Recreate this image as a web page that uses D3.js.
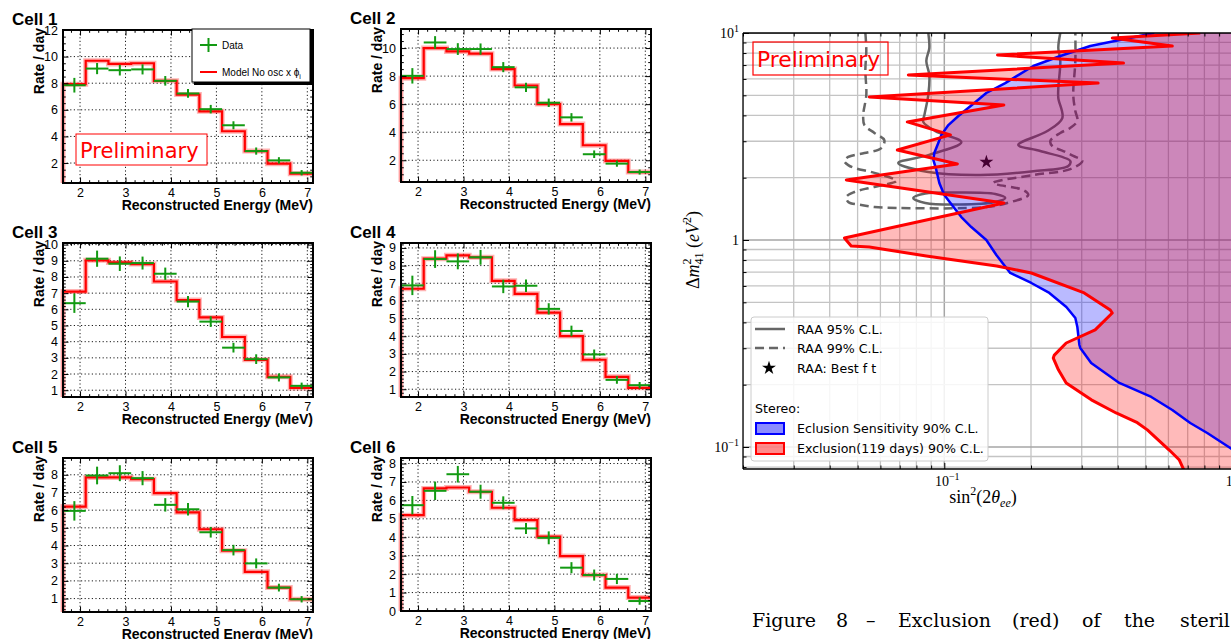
<!DOCTYPE html>
<html><head><meta charset="utf-8">
<script src="https://cdn.jsdelivr.net/npm/d3@7"></script>
<style>body{margin:0;background:#fff}svg{display:block}</style>
</head><body>
<svg id="c" width="1231" height="639"></svg>
<script>
// ---------------- DATA: left panels ----------------
const energyEdges = [1.625,2.125,2.625,3.125,3.625,4.125,4.625,5.125,5.625,6.125,6.625,7.125];
const energyTicks = [2,3,4,5,6,7];
const cellNames = ["Cell 1","Cell 2","Cell 3","Cell 4","Cell 5","Cell 6"];
const model1 = [7.93,9.69,9.45,9.5,8.18,7.15,5.89,4.39,2.9,1.95,1.2];
const data1  = [7.85,9.1,8.98,9.04,8.18,7.23,6.05,4.84,2.9,2.2,1.27];
const err1   = [0.55,0.42,0.4,0.38,0.36,0.33,0.32,0.3,0.27,0.24,0.2];
const model2 = [7.85,10.0,9.76,9.6,8.5,7.33,6.01,4.58,3.07,1.95,1.16];
const data2  = [8.02,10.4,9.93,9.93,8.64,7.2,6.1,5.06,2.43,1.76,1.16];
const err2   = [0.55,0.45,0.42,0.4,0.36,0.33,0.3,0.3,0.27,0.22,0.18];
const model3 = [7.1,9.03,8.9,8.8,7.72,6.57,5.5,4.29,2.88,1.83,1.14];
const data3  = [6.38,9.13,8.82,8.86,8.2,6.48,5.24,3.63,2.92,1.79,1.27];
const err3   = [0.6,0.5,0.45,0.4,0.38,0.35,0.33,0.3,0.3,0.25,0.2];
const model4 = [6.69,8.39,8.58,8.47,7.14,6.4,5.34,4.01,2.67,1.7,1.08];
const data4  = [6.88,8.37,8.24,8.47,6.82,6.86,5.55,4.3,2.97,1.53,1.23];
const err4   = [0.55,0.5,0.45,0.42,0.38,0.35,0.32,0.3,0.28,0.22,0.18];
const model5 = [6.2,7.85,7.85,7.75,6.96,5.88,4.92,3.71,2.51,1.62,0.96];
const data5  = [5.96,7.96,8.09,7.81,6.3,6.05,4.75,3.74,2.99,1.62,0.96];
const err5   = [0.55,0.5,0.45,0.4,0.38,0.35,0.3,0.3,0.28,0.22,0.18];
const model6 = [5.2,6.65,6.7,6.47,5.6,4.93,4.03,2.98,1.95,1.27,0.73];
const data6  = [5.74,6.52,7.42,6.47,5.87,4.48,3.97,2.35,1.95,1.74,0.54];
const err6   = [0.5,0.5,0.45,0.38,0.35,0.3,0.35,0.3,0.3,0.28,0.2];
const yTicks1 = [2,4,6,8,10,12];
const yTicks2 = [2,4,6,8,10];
const yTicks3 = [1,2,3,4,5,6,7,8,9,10];
const yTicks4 = [1,2,3,4,5,6,7,8,9];
const yTicks5 = [1,2,3,4,5,6,7,8];
const yTicks6 = [0,1,2,3,4,5,6,7,8];
const yLim1 = [0.5,12], yLim2 = [0.45,11.36], yLim3 = [0.58,10.1];
const yLim4 = [0.56,9.28], yLim5 = [0.24,8.95], yLim6 = [0,8.3];
const legendLabels = ["Data","Model No osc x \u03d5"];

// ---------------- DATA: exclusion plot ----------------
const redSin2 = [0.774,0.383,0.619,0.153,0.419,0.075,0.342,0.0549,0.161,0.0744,0.105,0.0687,0.111,0.0457,0.161,0.045,0.0475,0.0549,0.0866,0.152,0.2005,0.306,0.377,0.383,0.334,0.265,0.241,0.239,0.249,0.265,0.324,0.395,0.468,0.507,0.554,0.604,0.655,0.68];
const redDm2  = [10.0,9.46,8.65,7.83,7.16,6.27,5.73,4.91,4.49,3.72,3.22,2.72,2.33,1.95,1.51,1.022,0.935,0.925,0.837,0.749,0.693,0.555,0.459,0.444,0.368,0.318,0.278,0.269,0.236,0.204,0.169,0.146,0.131,0.121,0.108,0.0967,0.0865,0.077];
const blueSin2 = [0.536,0.321,0.2528,0.2037,0.1628,0.1399,0.1271,0.1119,0.1033,0.0977,0.0953,0.0923,0.0916,0.0938,0.0961,0.1,0.1083,0.1146,0.1241,0.1399,0.1516,0.1694,0.2005,0.2316,0.2653,0.2851,0.2897,0.2945,0.2966,0.3236,0.4052,0.5233,0.619,0.7145,0.8185,0.984,1.155];
const blueDm2  = [10.0,8.65,7.74,6.93,5.73,5.13,4.59,3.97,3.59,3.22,2.94,2.63,2.44,2.18,1.885,1.65,1.427,1.291,1.155,1.0,0.846,0.693,0.62,0.555,0.475,0.42,0.38,0.311,0.301,0.2545,0.204,0.1745,0.151,0.1306,0.1169,0.0989,0.0847];
const raa95Sin2 = [0.088,0.0887,0.0866,0.0887,0.088,0.0853,0.0845,0.0931,0.1146,0.088,0.0692,0.088,0.1333,0.2037,0.2696,0.2738,0.2154,0.1807,0.2279,0.2569,0.2488,0.2488,0.2528,0.2488,0.2528];
const raa95Dm2  = [10.0,8.46,7.32,6.27,5.02,4.02,3.72,3.36,2.97,2.57,2.355,2.13,2.06,2.15,2.28,2.41,2.69,2.88,3.36,3.88,4.85,5.42,7.32,8.46,10.0];
const raa95IslandSin2 = [0.078,0.0859,0.1127,0.1503,0.1628,0.1503,0.1127,0.0859];
const raa95IslandDm2  = [1.596,1.677,1.696,1.668,1.596,1.526,1.484,1.51];
const raa99Sin2 = [0.0532,0.0536,0.0532,0.0536,0.0523,0.0528,0.0572,0.0619,0.0604,0.0528,0.0464,0.045,0.0464,0.0487,0.0572,0.0681,0.0619,0.0545,0.0487,0.0457,0.0464,0.0515,0.0572,0.0692,0.1399,0.1655,0.1957,0.188,0.148,0.2037,0.2738,0.3014,0.2804,0.2588,0.2372,0.2335,0.2528,0.2738,0.2897,0.2851,0.2804,0.2851,0.2851];
const raa99Dm2  = [10.0,8.28,6.63,5.02,4.02,3.59,3.29,3.04,2.78,2.63,2.52,2.41,2.30,2.23,2.11,1.93,1.845,1.78,1.706,1.614,1.526,1.476,1.443,1.427,1.443,1.51,1.65,1.744,1.885,2.06,2.2,2.41,2.55,2.69,2.84,3.01,3.29,3.48,3.76,4.2,5.02,7.32,10.0];
const raaBest = [0.14, 2.38];
const xDomainR = [0.02, 2];
const yDomainR = [0.0783, 10];
const legendR = ["RAA 95% C.L.","RAA 99% C.L.","RAA: Best f t","Stereo:","Eclusion Sensitivity 90% C.L.","Exclusion(119 days) 90% C.L."];
const captionWords = ["Figure","8","\u2013","Exclusion","(red)","of","the","steril"];

// ---------------- DRAW ----------------
const svg = d3.select("#c");
const SANS = "'Liberation Sans', Arial, Helvetica, sans-serif";
const DSANS = "'DejaVu Sans', sans-serif";
const SERIF = "'Liberation Serif', 'Times New Roman', serif";
const GREEN = "#129a12";

const cells = [
  {name:cellNames[0], model:model1, data:data1, err:err1, lim:yLim1, ticks:yTicks1, minor:0.5},
  {name:cellNames[1], model:model2, data:data2, err:err2, lim:yLim2, ticks:yTicks2, minor:0.5},
  {name:cellNames[2], model:model3, data:data3, err:err3, lim:yLim3, ticks:yTicks3, minor:0.2},
  {name:cellNames[3], model:model4, data:data4, err:err4, lim:yLim4, ticks:yTicks4, minor:0.2},
  {name:cellNames[4], model:model5, data:data5, err:err5, lim:yLim5, ticks:yTicks5, minor:0.2},
  {name:cellNames[5], model:model6, data:data6, err:err6, lim:yLim6, ticks:yTicks6, minor:0.2}
];
const frames = [
  {x:63,y:30,w:250,h:153},{x:401,y:29,w:250,h:153},
  {x:63,y:243,w:250,h:154},{x:401,y:243,w:250,h:154},
  {x:63,y:458,w:250,h:154},{x:401,y:458,w:250,h:153}
];

function styleAxis(sel, size){
  sel.attr("font-family", SANS).attr("font-size", size);
  sel.select(".domain").remove();
  sel.selectAll("line").attr("stroke","#000").attr("stroke-width",1);
}

function drawCell(c, f, withLegend){
  const g = svg.append("g");
  const x = d3.scaleLinear().domain([energyEdges[0], energyEdges[energyEdges.length-1]]).range([f.x, f.x+f.w]);
  const y = d3.scaleLinear().domain(c.lim).range([f.y+f.h, f.y]);
  // dotted grid
  g.append("g").selectAll("line").data(energyTicks).join("line")
    .attr("x1",d=>x(d)).attr("x2",d=>x(d)).attr("y1",f.y).attr("y2",f.y+f.h);
  g.append("g").selectAll("line").data(c.ticks).join("line")
    .attr("x1",f.x).attr("x2",f.x+f.w).attr("y1",d=>y(d)).attr("y2",d=>y(d));
  g.selectAll("g line").attr("stroke","#000").attr("stroke-width",0.9).attr("stroke-dasharray","1.2,2.4");

  // model histogram
  const step = [[energyEdges[0], c.lim[0]]];
  c.model.forEach((v,k)=>{ step.push([energyEdges[k], v]); step.push([energyEdges[k+1], v]); });
  const line = d3.line().x(d=>x(d[0])).y(d=>y(d[1]));
  g.append("path").attr("d", line(step)).attr("fill","none").attr("stroke","rgba(255,0,0,0.3)").attr("stroke-width",5);
  g.append("path").attr("d", line(step)).attr("fill","none").attr("stroke","#ff0000").attr("stroke-width",2.2);

  // data crosses
  const dg = g.append("g").attr("stroke", GREEN).attr("stroke-width", 2);
  c.data.forEach((v,k)=>{
    const xc = (energyEdges[k]+energyEdges[k+1])/2;
    dg.append("line").attr("x1",x(energyEdges[k])).attr("x2",x(energyEdges[k+1])).attr("y1",y(v)).attr("y2",y(v));
    dg.append("line").attr("x1",x(xc)).attr("x2",x(xc)).attr("y1",y(v-c.err[k])).attr("y2",y(v+c.err[k]));
  });

  // axes
  const minX = x.ticks(27).filter(d=>!energyTicks.includes(d));
  const minY = d3.range(Math.ceil(c.lim[0]/c.minor)*c.minor, c.lim[1], c.minor).filter(d=>!c.ticks.some(t=>Math.abs(t-d)<1e-6));
  g.append("g").attr("transform",`translate(0,${f.y+f.h})`)
    .call(d3.axisBottom(x).tickValues(energyTicks).tickSize(-5.5).tickPadding(5).tickFormat(d3.format("d"))).call(s=>styleAxis(s,12.5));
  g.append("g").attr("transform",`translate(0,${f.y+f.h})`)
    .call(d3.axisBottom(x).tickValues(minX).tickSize(-2.8).tickFormat("")).call(s=>styleAxis(s,10));
  g.append("g").attr("transform",`translate(0,${f.y})`)
    .call(d3.axisTop(x).tickValues(energyTicks).tickSize(-5.5).tickFormat("")).call(s=>styleAxis(s,10));
  g.append("g").attr("transform",`translate(0,${f.y})`)
    .call(d3.axisTop(x).tickValues(minX).tickSize(-2.8).tickFormat("")).call(s=>styleAxis(s,10));
  g.append("g").attr("transform",`translate(${f.x},0)`)
    .call(d3.axisLeft(y).tickValues(c.ticks).tickSize(-5.5).tickPadding(5).tickFormat(d3.format("d"))).call(s=>styleAxis(s,12.5));
  g.append("g").attr("transform",`translate(${f.x},0)`)
    .call(d3.axisLeft(y).tickValues(minY).tickSize(-2.8).tickFormat("")).call(s=>styleAxis(s,10));
  g.append("g").attr("transform",`translate(${f.x+f.w},0)`)
    .call(d3.axisRight(y).tickValues(c.ticks).tickSize(-5.5).tickFormat("")).call(s=>styleAxis(s,10));
  g.append("g").attr("transform",`translate(${f.x+f.w},0)`)
    .call(d3.axisRight(y).tickValues(minY).tickSize(-2.8).tickFormat("")).call(s=>styleAxis(s,10));

  // frame
  g.append("rect").attr("x",f.x).attr("y",f.y).attr("width",f.w).attr("height",f.h)
    .attr("fill","none").attr("stroke","#000").attr("stroke-width",2);

  // titles
  g.append("text").attr("x", f.x-51).attr("y", f.y-5).attr("font-family",SANS).attr("font-weight","bold").attr("font-size",17).text(c.name);
  g.append("text").attr("transform",`translate(${f.x-19},${f.y-2}) rotate(-90)`).attr("text-anchor","end")
    .attr("font-family",SANS).attr("font-weight","bold").attr("font-size",14).text("Rate / day");
  g.append("text").attr("x", f.x+f.w).attr("y", f.y+f.h+27).attr("text-anchor","end")
    .attr("font-family",SANS).attr("font-weight","bold").attr("font-size",14).text("Reconstructed Energy (MeV)");

  if(withLegend){
    const lg = svg.append("g");
    lg.append("rect").attr("x",194).attr("y",31).attr("width",119).attr("height",54).attr("fill","#000");
    lg.append("rect").attr("x",192).attr("y",29).attr("width",118).attr("height",53).attr("fill","#fff").attr("stroke","#000").attr("stroke-width",1);
    lg.append("line").attr("x1",200).attr("x2",217).attr("y1",45).attr("y2",45).attr("stroke",GREEN).attr("stroke-width",2);
    lg.append("line").attr("x1",208.5).attr("x2",208.5).attr("y1",38).attr("y2",52).attr("stroke",GREEN).attr("stroke-width",2);
    lg.append("line").attr("x1",200).attr("x2",217).attr("y1",72).attr("y2",72).attr("stroke","#ff0000").attr("stroke-width",2);
    lg.append("text").attr("x",222).attr("y",48.5).attr("font-family",SANS).attr("font-size",10).text(legendLabels[0]);
    const t2 = lg.append("text").attr("x",222).attr("y",75.5).attr("font-family",SANS).attr("font-size",10);
    t2.append("tspan").text(legendLabels[1]);
    t2.append("tspan").attr("font-size",7).attr("dy",3).text("i");
    // Preliminary
    svg.append("rect").attr("x",76).attr("y",134).attr("width",131).attr("height",31).attr("fill","#fff").attr("stroke","#ff0000").attr("stroke-width",1);
    svg.append("text").attr("x",80).attr("y",158).attr("font-family",DSANS).attr("font-size",21).attr("fill","#ff0000").text("Preliminary");
  }
}
cells.forEach((c,i)=>drawCell(c, frames[i], i===0));

// ---------------- right: exclusion plot ----------------
const L = 743, T = 33, B = 469;
const xR = d3.scaleLog().domain(xDomainR).range([L, L + 288*Math.log10(xDomainR[1]/xDomainR[0])]);
const yR = d3.scaleLog().domain(yDomainR).range([B, T]);
const R = 1240;
svg.append("defs").append("clipPath").attr("id","clipR").append("rect").attr("x",L).attr("y",T).attr("width",R-L).attr("height",B-T);
const pg = svg.append("g").attr("clip-path","url(#clipR)");
const isMajor = d => Math.abs(Math.log10(d) - Math.round(Math.log10(d))) < 1e-6;

// grid
const xTicksR = xR.ticks();
const yTicksR = yR.ticks();
pg.append("g").selectAll("line").data(xTicksR).join("line")
  .attr("x1",d=>xR(d)).attr("x2",d=>xR(d)).attr("y1",T).attr("y2",B)
  .attr("stroke",d=>isMajor(d)?"#a6a6a6":"#c4c4c4").attr("stroke-width",d=>isMajor(d)?1.5:1.3);
pg.append("g").selectAll("line").data(yTicksR).join("line")
  .attr("y1",d=>yR(d)).attr("y2",d=>yR(d)).attr("x1",L).attr("x2",R)
  .attr("stroke",d=>isMajor(d)?"#a6a6a6":"#c4c4c4").attr("stroke-width",d=>isMajor(d)?1.5:1.3);

const lineR = d3.line().x(d=>xR(d[0])).y(d=>yR(d[1]));
const zip = (a,b) => a.map((v,i)=>[v,b[i]]);
const red = zip(redSin2, redDm2);
const blue = zip(blueSin2, blueDm2);
const raa95 = zip(raa95Sin2, raa95Dm2);
const raa95i = zip(raa95IslandSin2, raa95IslandDm2);
const raa99 = zip(raa99Sin2, raa99Dm2);
const GRAY = "#666666";

pg.append("path").attr("d", d3.line().x(d=>xR(d[0])).y(d=>yR(d[1])).curve(d3.curveCatmullRom.alpha(0.5))(raa95))
  .attr("fill","none").attr("stroke",GRAY).attr("stroke-width",2.5);
pg.append("path").attr("d", d3.line().x(d=>xR(d[0])).y(d=>yR(d[1])).curve(d3.curveCatmullRomClosed.alpha(0.5))(raa95i))
  .attr("fill","none").attr("stroke",GRAY).attr("stroke-width",2.5);
pg.append("path").attr("d", d3.line().x(d=>xR(d[0])).y(d=>yR(d[1])).curve(d3.curveCatmullRom.alpha(0.5))(raa99))
  .attr("fill","none").attr("stroke",GRAY).attr("stroke-width",2.5).attr("stroke-dasharray","9,5");
pg.append("path").attr("d", d3.symbol(d3.symbolStar, 60)()).attr("transform",`translate(${xR(raaBest[0])},${yR(raaBest[1])})`).attr("fill","#000");

// fills
const far = 100;
const blueFill = blue.concat([[blue[blue.length-1][0],0.03],[far,0.03],[far,30],[blue[0][0],30]]);
const redFill = red.concat([[red[red.length-1][0],0.03],[far,0.03],[far,30],[red[0][0],30]]);
pg.append("path").attr("d", lineR(blueFill)+"Z").attr("fill","rgba(0,0,255,0.27)").attr("stroke","none");
pg.append("path").attr("d", lineR(redFill)+"Z").attr("fill","rgba(255,0,0,0.27)").attr("stroke","none");
pg.append("path").attr("d", lineR(blue)).attr("fill","none").attr("stroke","#0000ff").attr("stroke-width",2.5).attr("stroke-linejoin","round");
pg.append("path").attr("d", lineR(red)).attr("fill","none").attr("stroke","#ff0000").attr("stroke-width",3).attr("stroke-linejoin","round");

// spines
svg.append("line").attr("x1",L).attr("x2",1231).attr("y1",T).attr("y2",T).attr("stroke","#000").attr("stroke-width",1.3);
svg.append("line").attr("x1",L).attr("x2",1231).attr("y1",B).attr("y2",B).attr("stroke","#000").attr("stroke-width",1.3);
svg.append("line").attr("x1",L).attr("x2",L).attr("y1",T).attr("y2",B).attr("stroke","#000").attr("stroke-width",1.3);
// ticks (inward)
function tickAxis(axis, tr, vals, size){
  svg.append("g").attr("transform",tr).call(axis.tickValues(vals).tickSize(size).tickFormat("")).call(s=>{s.select(".domain").remove(); s.selectAll("line").attr("stroke","#000").attr("stroke-width",1);});
}
const xMaj = xTicksR.filter(isMajor), xMin = xTicksR.filter(d=>!isMajor(d)&&xR(d)<1231);
const yMaj = yTicksR.filter(isMajor), yMin = yTicksR.filter(d=>!isMajor(d));
tickAxis(d3.axisLeft(yR), `translate(${L},0)`, yMaj, -6);
tickAxis(d3.axisLeft(yR), `translate(${L},0)`, yMin, -3.5);
tickAxis(d3.axisBottom(xR), `translate(0,${B})`, xMaj, -6);
tickAxis(d3.axisBottom(xR), `translate(0,${B})`, xMin, -3.5);
tickAxis(d3.axisTop(xR), `translate(0,${T})`, xMaj, -6);
tickAxis(d3.axisTop(xR), `translate(0,${T})`, xMin, -3.5);

// tick labels
function powLabel(g, exp){
  g.append("tspan").text("10");
  g.append("tspan").attr("font-size",10).attr("dy",-6).text(exp<0?"\u2212"+(-exp):String(exp));
}
yMaj.forEach(d=>{
  const e = Math.round(Math.log10(d));
  const t = svg.append("text").attr("x",L-4).attr("y",yR(d)+4.5).attr("text-anchor","end").attr("font-family",SERIF).attr("font-size",14);
  if(e===0) t.text("1"); else powLabel(t,e);
});
xMaj.forEach(d=>{
  const e = Math.round(Math.log10(d));
  const t = svg.append("text").attr("x",xR(d)+3).attr("y",B+17).attr("text-anchor","middle").attr("font-family",SERIF).attr("font-size",14);
  powLabel(t,e);
});

// axis titles
const yl = svg.append("text").attr("transform","translate(699,250) rotate(-90)").attr("text-anchor","middle").attr("font-family",SERIF).attr("font-size",18);
yl.append("tspan").text("\u0394");
yl.append("tspan").attr("font-style","italic").text("m");
yl.append("tspan").attr("font-size",12).attr("dy",-8).text("2");
yl.append("tspan").attr("font-size",12).attr("dx",-6).attr("dy",12).text("41");
yl.append("tspan").attr("dy",-4).text(" (");
yl.append("tspan").attr("font-style","italic").text("eV");
yl.append("tspan").attr("font-size",12).attr("dy",-8).text("2");
yl.append("tspan").attr("dy",8).text(")");

const xl = svg.append("text").attr("x",983).attr("y",503).attr("text-anchor","middle").attr("font-family",SERIF).attr("font-size",18);
xl.append("tspan").text("sin");
xl.append("tspan").attr("font-size",12).attr("dy",-8).text("2");
xl.append("tspan").attr("dy",8).text("(2");
xl.append("tspan").attr("font-style","italic").text("\u03b8");
xl.append("tspan").attr("font-style","italic").attr("font-size",12).attr("dy",4).text("ee");
xl.append("tspan").attr("dy",-4).text(")");

// Preliminary (right)
svg.append("rect").attr("x",753).attr("y",42).attr("width",135).attr("height",33).attr("fill","none").attr("stroke","#ff0000").attr("stroke-width",1.2);
svg.append("text").attr("x",757).attr("y",67).attr("font-family",DSANS).attr("font-size",21.8).attr("fill","#ff0000").text("Preliminary");

// legend (right)
const lgR = svg.append("g").attr("font-family",DSANS).attr("font-size",12.6);
lgR.append("rect").attr("x",751).attr("y",317).attr("width",237).attr("height",144).attr("rx",3)
  .attr("fill","rgba(255,255,255,0.85)").attr("stroke","#cccccc").attr("stroke-width",1);
lgR.append("line").attr("x1",755).attr("x2",785).attr("y1",329).attr("y2",329).attr("stroke",GRAY).attr("stroke-width",2.5);
lgR.append("line").attr("x1",755).attr("x2",785).attr("y1",348).attr("y2",348).attr("stroke",GRAY).attr("stroke-width",2.5).attr("stroke-dasharray","9,5");
lgR.append("path").attr("d", d3.symbol(d3.symbolStar, 60)()).attr("transform","translate(769,368)").attr("fill","#000");
lgR.append("rect").attr("x",756).attr("y",423).attr("width",28).attr("height",11).attr("fill","rgba(0,0,255,0.45)").attr("stroke","#0000ff").attr("stroke-width",2);
lgR.append("rect").attr("x",756).attr("y",443).attr("width",28).attr("height",11).attr("fill","rgba(255,0,0,0.45)").attr("stroke","#ff0000").attr("stroke-width",2);
const lgY = [333.5,352.5,372.5,412.5,432.5,452.5];
legendR.forEach((t,i)=>{
  lgR.append("text").attr("x", i===3?755:797).attr("y", lgY[i]).text(t);
});

// caption
const capX = [752,836,866,898,1012,1082,1124,1180];
captionWords.forEach((w,i)=>{
  svg.append("text").attr("x",capX[i]).attr("y",627).attr("font-family","'DejaVu Serif', serif").attr("font-size",19).text(w);
});
</script>
</body></html>
